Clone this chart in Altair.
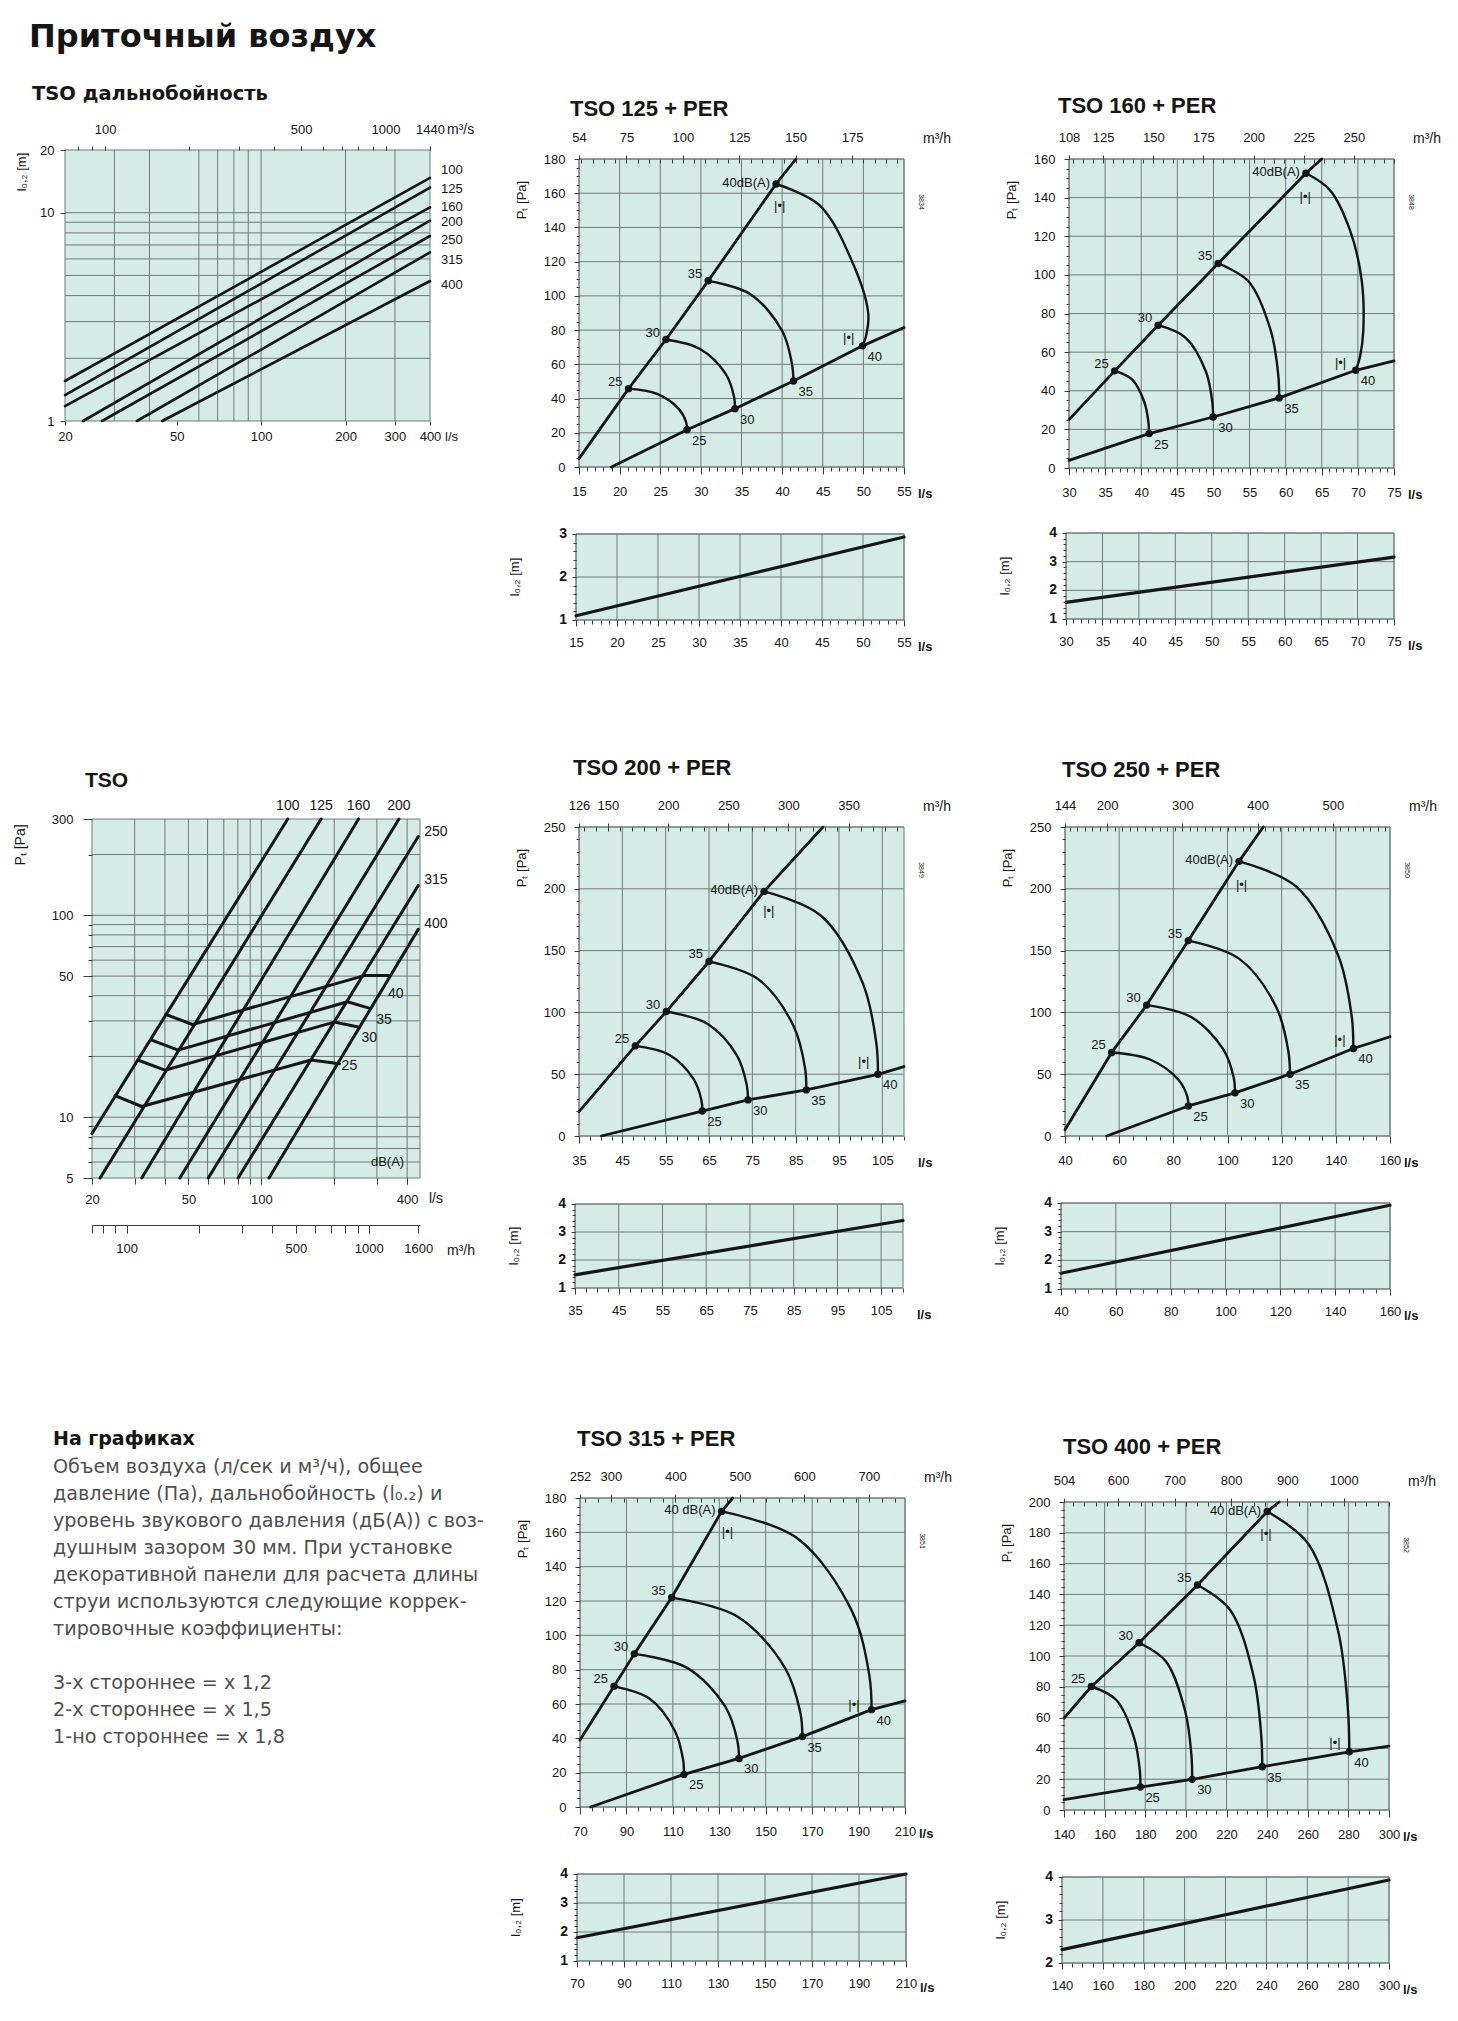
import altair as alt
import pandas as pd

# ---------------- values ----------------
# "TSO дальнобойность": throw l0.2 [m] vs airflow [l/s] (log-log)
THROW_SIZES = ["100", "125", "160", "200", "250", "315", "400"]
THROW_X0 = [20, 20, 20, 23.2, 27.1, 36.1, 44.4]
THROW_Y0 = [1.556, 1.33, 1.18, 1.0, 1.0, 1.0, 1.0]
THROW_X1 = [400, 400, 400, 400, 400, 400, 400]
THROW_Y1 = [14.7, 13.2, 10.6, 9.15, 7.73, 6.45, 4.70]
THROW_LABEL_Y = [16.0, 13.0, 10.6, 9.0, 7.4, 5.9, 4.5]
THROW_XGRID = [30, 40, 60, 70, 80, 90, 100, 200, 300]
THROW_YGRID = [2, 3, 4, 5, 6, 7, 8, 9, 10]
THROW_XLABELS = [20, 50, 100, 200, 300, 400]
THROW_YLABELS = [1, 10, 20]
THROW_TOP_LABELS = [100, 500, 1000, 1440]
THROW_TOP_TICKS = [80, 90, 100, 200, 300, 400, 500, 600, 700, 800, 900, 1000, 1440]

# "TSO": total pressure [Pa] vs airflow [l/s] (log-log)
PD_SIZES = ["100", "125", "160", "200", "250", "315", "400"]
PD_X0 = [20, 21.6, 32.1, 46.1, 60.4, 80.2, 107.6]
PD_Y0 = [8.3, 5, 5, 5, 5, 5, 5]
PD_X1 = [128.6, 176.5, 252, 370, 444.6, 444.6, 444.6]
PD_Y1 = [300, 300, 300, 300, 245.5, 140.6, 85.2]
PD_DB = ["25", "30", "35", "40"]
PD_DB_X = [[24.9, 32.1, 160.5, 210], [30.9, 40.0, 200, 254], [35.3, 45.4, 227, 283], [40.3, 52.0, 266, 337]]
PD_DB_Y = [[12.8, 11.3, 19.2, 18.4], [19.2, 17.1, 29.6, 27.9], [24.1, 21.5, 37.3, 34.5], [32.3, 28.8, 50.3, 50.3]]
PD_DB_LX = [231, 279, 321, 359]
PD_DB_LY = [17.9, 24.7, 30.4, 40.7]
PD_XGRID = [30, 40, 50, 60, 70, 80, 90, 100, 200, 300, 400]
PD_YGRID = [6, 7, 8, 9, 10, 20, 30, 40, 50, 60, 70, 80, 90, 100, 200]
PD_XLABELS = [20, 50, 100, 400]
PD_YLABELS = [5, 10, 50, 100, 300]
PD_M3H_LABELS = [100, 500, 1000, 1600]
PD_M3H_TICKS = [72, 80, 90, 100, 200, 300, 400, 500, 600, 700, 800, 900, 1000, 1600]

# TSO + PER panels: (l/s, Pa) points; upper line, lower line, dB arcs, |•| marks, throw line
P125_UPPER = [(15, 4.9), (21.1, 45.8), (25.7, 74.5), (30.9, 108.8), (39.25, 165.4), (41.7, 180)]
P125_LOWER = [(19.0, 0), (28.3, 21.8), (34.2, 34.1), (41.4, 50.3), (49.9, 70.8), (55, 81.5)]
P125_ARCS = [
    [(21.1, 45.8), (24.7, 42.6), (27.3, 33.8), (28.2, 26.0), (28.3, 21.8)],
    [(25.7, 74.5), (29.9, 69.0), (33.05, 54.4), (34.08, 41.1), (34.2, 34.1)],
    [(30.9, 108.8), (36.1, 101.0), (40.0, 79.6), (41.2, 60.5), (41.4, 50.3)],
    [(39.25, 165.4), (44.6, 153.0), (48.8, 118.0), (50.6, 89.7), (50.3, 76.0), (49.9, 70.8)],
]
P125_MARKS = [(39.7, 152.6), (48.2, 75.1)]
P125_THROW = [(15, 1.1), (55, 2.93)]

P160_UPPER = [(30, 25.05), (36.33, 50.3), (42.34, 73.95), (50.65, 105.9), (62.8, 152.6), (64.97, 160)]
P160_LOWER = [(30, 3.97), (41.09, 17.8), (49.96, 26.4), (59.1, 36.3), (69.7, 50.6), (75, 55.5)]
P160_ARCS = [
    [(36.33, 50.3), (38.69, 45.96), (40.44, 34.04), (41.0, 23.5), (41.09, 17.8)],
    [(42.34, 73.95), (46.12, 67.56), (48.94, 50.1), (49.82, 34.73), (49.96, 26.4)],
    [(50.65, 105.9), (54.86, 96.59), (57.95, 71.02), (58.97, 48.38), (59.1, 36.3)],
    [(62.8, 152.6), (66.13, 143.9), (68.9, 123.2), (70.52, 97.3), (70.75, 71.4), (70.29, 57.5), (69.7, 50.6)],
]
P160_MARKS = [(62.7, 140.5), (67.6, 54.4)]
P160_THROW = [(30, 1.58), (75, 3.16)]

P200_UPPER = [(35, 19.7), (48.0, 72.9), (55.15, 100.7), (65.0, 141.2), (77.7, 197.9), (91.3, 250)]
P200_LOWER = [(40.15, 0), (63.46, 20.2), (74.0, 29.2), (87.46, 37.3), (104.0, 49.9), (110, 56.2)]
P200_ARCS = [
    [(48.0, 72.9), (55.69, 65.9), (61.38, 46.4), (63.23, 29.4), (63.46, 20.2)],
    [(55.15, 100.7), (64.54, 91.0), (71.46, 65.1), (73.69, 41.6), (74.0, 29.2)],
    [(65.0, 141.2), (76.23, 127.2), (84.46, 89.4), (87.15, 55.3), (87.46, 37.3)],
    [(77.7, 197.9), (90.85, 178.2), (100.46, 123.9), (103.6, 75.6), (104.0, 49.9)],
]
P200_MARKS = [(78.8, 181.7), (100.7, 60.2)]
P200_THROW = [(35, 1.47), (110, 3.41)]

P250_UPPER = [(40, 5.1), (57.23, 67.6), (70.15, 105.9), (85.54, 158.1), (104.25, 222.2), (113.2, 250)]
P250_LOWER = [(55.4, 0), (85.54, 24.3), (102.77, 34.9), (123.08, 50.0), (146.46, 70.8), (160, 80.3)]
P250_ARCS = [
    [(57.23, 67.6), (71.38, 61.9), (81.72, 45.9), (85.17, 31.9), (85.54, 24.3)],
    [(70.15, 105.9), (86.4, 96.5), (98.34, 70.5), (102.28, 47.3), (102.77, 34.9)],
    [(85.54, 158.1), (104.25, 143.5), (118.03, 104.1), (122.46, 68.6), (123.08, 50.0)],
    [(104.25, 222.2), (125.29, 201.9), (140.8, 146.5), (145.85, 97.0), (146.46, 70.8)],
]
P250_MARKS = [(105.2, 203.2), (141.5, 77.6)]
P250_THROW = [(40, 1.55), (160, 3.92)]

P315_UPPER = [(70, 39.0), (84.65, 70.3), (93.4, 89.2), (109.5, 122.0), (131.0, 172.2), (135.8, 180)]
P315_LOWER = [(74.6, 0), (114.8, 19.0), (138.5, 28.3), (165.8, 41.0), (195.6, 56.7), (210, 61.8)]
P315_ARCS = [
    [(84.65, 70.3), (99.72, 63.3), (110.78, 44.6), (114.37, 27.9), (114.8, 19.0)],
    [(93.4, 89.2), (115.95, 81.2), (132.46, 58.7), (137.77, 38.8), (138.5, 28.3)],
    [(109.5, 122.0), (137.63, 111.1), (158.16, 81.4), (164.91, 55.1), (165.8, 41.0)],
    [(131.0, 172.2), (163.33, 156.8), (187.03, 114.4), (194.63, 76.7), (195.6, 56.7)],
]
P315_MARKS = [(133.5, 160.4), (188.0, 59.6)]
P315_THROW = [(70, 1.8), (210, 4.0)]

P400_UPPER = [(140, 59.6), (153.47, 80.2), (176.96, 108.6), (205.71, 146.1), (240.04, 193.8), (245.96, 200)]
P400_LOWER = [(140, 6.7), (177.6, 14.9), (203.08, 19.9), (237.6, 28.1), (280.45, 37.8), (300, 41.5)]
P400_ARCS = [
    [(153.47, 80.2), (165.63, 71.6), (174.33, 47.7), (177.29, 26.3), (177.6, 14.9)],
    [(176.96, 108.6), (190.1, 96.6), (199.63, 64.3), (202.75, 35.3), (203.08, 19.9)],
    [(205.71, 146.1), (221.64, 130.2), (233.31, 87.0), (237.09, 48.5), (237.6, 28.1)],
    [(240.04, 193.8), (260.25, 172.9), (275.03, 115.8), (279.8, 64.8), (280.45, 37.8)],
]
P400_MARKS = [(239.4, 179.4), (273.4, 43.5)]
P400_THROW = [(140, 2.31), (300, 3.93)]

BODY_LINES = [
    "Объем воздуха (л/сек и м³/ч), общее",
    "давление (Па), дальнобойность (l₀.₂) и",
    "уровень звукового давления (дБ(А)) с воз-",
    "душным зазором 30 мм.  При установке",
    "декоративной панели для расчета длины",
    "струи используются следующие коррек-",
    "тировочные коэффициенты:",
    "",
    "3-х стороннее = х 1,2",
    "2-х стороннее = х 1,5",
    "1-но стороннее = х 1,8",
]

# ---------------- layout & style ----------------
W, H = 1442, 1996
M = 8
FONT = "Liberation Sans"
CYR = "DejaVu Sans"
BG = "#d4ebe6"
GRID = "#6f7a78"
INK = "#151515"
TICK = "#3a3a3a"

BOX = {
    "throw": (65, 430, 150, 421),
    "pd": (92, 420, 819, 1178),
    "125": (579, 904, 159, 467), "125s": (576, 904, 534, 620),
    "160": (1069, 1394, 159, 468), "160s": (1066, 1394, 533, 619),
    "200": (579, 904, 827, 1136), "200s": (575, 903, 1204, 1288),
    "250": (1065, 1390, 827, 1136), "250s": (1061, 1390, 1203, 1289),
    "315": (580, 905, 1498, 1807), "315s": (577, 906, 1874, 1961),
    "400": (1064, 1389, 1502, 1810), "400s": (1062, 1389, 1877, 1963),
}

layers = []


def scale(lo_px, hi_px, dom, typ="linear"):
    return alt.Scale(type=typ, domain=list(dom), range=[lo_px - M, hi_px - M], nice=False, zero=False)


def axis(orient, pos, values, labels=True, tick=5, pad=4, domain=False, size=13, weight="normal"):
    p = pos - M
    if orient == "bottom":
        off = p - H
    else:
        off = -p
    kw = dict(orient=orient, offset=off, values=list(values), labels=labels, ticks=True,
              tickSize=tick, tickColor=TICK, tickWidth=1, domain=domain, grid=False,
              labelPadding=pad, labelFont=FONT, labelFontSize=size, labelColor=INK,
              labelFontWeight=weight, labelOverlap=False, labelFlush=False, title=None, zindex=3)
    if domain:
        kw["domainColor"] = TICK
        kw["domainWidth"] = 1
    if labels:
        kw["format"] = "d"
    return alt.Axis(**kw)


def carrier(xs, ys, xv, yv, xax=None, yax=None):
    d = pd.DataFrame({"x": [xv], "y": [yv]})
    return alt.Chart(d).mark_point(opacity=0, size=1).encode(
        x=alt.X("x:Q", scale=xs, axis=xax), y=alt.Y("y:Q", scale=ys, axis=yax))


def bg(xs, ys, xd, yd):
    d = pd.DataFrame({"x": [xd[0]], "x2": [xd[1]], "y": [yd[0]], "y2": [yd[1]]})
    return alt.Chart(d).mark_rect(fill=BG, stroke=GRID, strokeWidth=1).encode(
        x=alt.X("x:Q", scale=xs, axis=None), x2="x2:Q",
        y=alt.Y("y:Q", scale=ys, axis=None), y2="y2:Q")


def vgrid(xs, ys, vals, yd):
    vals = list(vals)
    d = pd.DataFrame({"x": vals, "y": [yd[0]] * len(vals), "y2": [yd[1]] * len(vals)})
    return alt.Chart(d).mark_rule(color=GRID, strokeWidth=1).encode(
        x=alt.X("x:Q", scale=xs, axis=None), y=alt.Y("y:Q", scale=ys, axis=None), y2="y2:Q")


def hgrid(xs, ys, vals, xd):
    vals = list(vals)
    d = pd.DataFrame({"gy": vals, "gx": [xd[0]] * len(vals), "gx2": [xd[1]] * len(vals)})
    return alt.Chart(d).mark_rule(color=GRID, strokeWidth=1).encode(
        y=alt.Y("gy:Q", scale=ys, axis=None), x=alt.X("gx:Q", scale=xs, axis=None), x2="gx2:Q")


def line_layer(xs, ys, groups, width=2.6, interp="linear"):
    rows = []
    for g, pts in enumerate(groups):
        for i, (x, y) in enumerate(pts):
            rows.append({"x": x, "y": y, "g": g, "i": i})
    d = pd.DataFrame(rows)
    return alt.Chart(d).mark_line(color=INK, strokeWidth=width, interpolate=interp, strokeCap="round",
                                  strokeJoin="round").encode(
        x=alt.X("x:Q", scale=xs, axis=None), y=alt.Y("y:Q", scale=ys, axis=None),
        detail="g:N", order="i:Q")


def dots(xs, ys, pts):
    d = pd.DataFrame({"x": [p[0] for p in pts], "y": [p[1] for p in pts]})
    return alt.Chart(d).mark_circle(size=55, color=INK, opacity=1).encode(
        x=alt.X("x:Q", scale=xs, axis=None), y=alt.Y("y:Q", scale=ys, axis=None))


def text_layer(xs, ys, pts, labels, align="center", dx=0, dy=0, size=13, weight="normal",
               baseline="middle", font=FONT):
    d = pd.DataFrame({"x": [p[0] for p in pts], "y": [p[1] for p in pts], "t": labels})
    return alt.Chart(d).mark_text(align=align, baseline=baseline, dx=dx, dy=dy, fontSize=size,
                                  fontWeight=weight, font=font, color=INK).encode(
        x=alt.X("x:Q", scale=xs, axis=None), y=alt.Y("y:Q", scale=ys, axis=None), text="t:N")


def ptext(s, x, y, size=13, weight="normal", font=FONT, align="left", baseline="alphabetic",
          angle=0, color=INK):
    d = pd.DataFrame({"t": [s]})
    kw = dict(align=align, baseline=baseline, fontSize=size, fontWeight=weight, font=font, color=color)
    if angle:
        kw["angle"] = angle
    return alt.Chart(d).mark_text(**kw).encode(x=alt.value(x - M), y=alt.value(y - M), text="t:N")


# ---------------- headings ----------------
layers.append(ptext("Приточный воздух", 29, 47, size=32, weight="bold", font=CYR))
layers.append(ptext("TSO дальнобойность", 32, 100, size=19.5, weight="bold", font=CYR))

# ---------------- panel: TSO дальнобойность ----------------
x0, x1, y0, y1 = BOX["throw"]
xd, yd = [20, 400], [1, 20]
xs = scale(x0, x1, xd, "log")
ys = scale(y1, y0, yd, "log")
xt = scale(x0, x1, [72, 1440], "log")
layers += [
    bg(xs, ys, xd, yd),
    vgrid(xs, ys, THROW_XGRID, yd),
    hgrid(xs, ys, THROW_YGRID, xd),
    carrier(xs, ys, 20, 1, axis("bottom", y1, THROW_XLABELS, tick=4, pad=5),
            axis("left", x0, THROW_YLABELS, tick=5, pad=6)),
    carrier(xt, ys, 72, 1, axis("top", y0, THROW_TOP_LABELS, tick=4, pad=10), None),
    carrier(xt, ys, 72, 1, axis("top", y0, THROW_TOP_TICKS, labels=False, tick=4), None),
    line_layer(xs, ys, [[(THROW_X0[i], THROW_Y0[i]), (THROW_X1[i], THROW_Y1[i])] for i in range(7)],
               width=2.6),
    text_layer(xs, ys, [(400, v) for v in THROW_LABEL_Y], THROW_SIZES, align="left", dx=11),
    ptext("m³/s", x1 + 17, y0 - 16, size=14),
    ptext("l/s", x1 + 15, y1 + 20, size=13),
    ptext("l₀,₂ [m]", 22, 172, size=13, align="center", baseline="middle", angle=270),
]

# ---------------- panel: TSO pressure ----------------
layers.append(ptext("TSO", 85, 787, size=21, weight="bold"))
x0, x1, y0, y1 = BOX["pd"]
xd, yd = [20, 452], [5, 300]
xs = scale(x0, x1, xd, "log")
ys = scale(y1, y0, yd, "log")
xm = scale(x0, x1, [72, 1627.2], "log")
layers += [
    bg(xs, ys, xd, yd),
    vgrid(xs, ys, PD_XGRID, yd),
    hgrid(xs, ys, PD_YGRID, xd),
    carrier(xs, ys, 20, 5, axis("bottom", y1, PD_XLABELS, tick=6, pad=9),
            axis("left", x0, PD_YLABELS, tick=9, pad=10)),
    carrier(xs, ys, 20, 5, axis("bottom", y1, PD_XGRID, labels=False, tick=6),
            axis("left", x0, PD_YGRID, labels=False, tick=4)),
    carrier(xm, ys, 72, 5, axis("bottom", 1225, PD_M3H_LABELS, tick=8, pad=9, domain=True), None),
    carrier(xm, ys, 72, 5, axis("bottom", 1225, PD_M3H_TICKS, labels=False, tick=8), None),
    line_layer(xs, ys, [[(PD_X0[i], PD_Y0[i]), (PD_X1[i], PD_Y1[i])] for i in range(7)], width=3),
    line_layer(xs, ys, [list(zip(PD_DB_X[i], PD_DB_Y[i])) for i in range(4)], width=3),
    text_layer(xs, ys, [(PD_X1[i], PD_Y1[i]) for i in range(4)], PD_SIZES[:4], dy=-13, size=14),
    text_layer(xs, ys, [(PD_X1[i], PD_Y1[i]) for i in range(4, 7)], PD_SIZES[4:], align="left",
               dx=6, dy=-5, size=14),
    text_layer(xs, ys, list(zip(PD_DB_LX, PD_DB_LY)), PD_DB, size=14),
    text_layer(xs, ys, [(332, 6.0)], ["dB(A)"], size=13),
    ptext("l/s", x1 + 9, y1 + 25, size=14),
    ptext("m³/h", 447, 1255, size=14),
    ptext("Pₜ [Pa]", 21, 845, size=14, align="center", baseline="middle", angle=270),
]

# ---------------- text block ----------------
layers.append(ptext("На графиках", 53, 1445, size=19, weight="bold", font=CYR))
for i, line in enumerate(BODY_LINES):
    if line:
        layers.append(ptext(line, 53, 1473 + 27 * i, size=19.2, font=CYR, color="#4f4f4f"))


# ---------------- TSO + PER panels ----------------
def per_panel(key, title, tpos, xd, yd, xgrid, ygrid, xminor, yminor, top_dom, top_labels, top_minor,
              upper, lower, arcs, marks, code, sdom, sgrid, sminor, throw, dba):
    x0, x1, y0, y1 = BOX[key]
    xs = scale(x0, x1, xd)
    ys = scale(y1, y0, yd)
    xt = scale(x0, x1, top_dom)
    L = [
        bg(xs, ys, xd, yd),
        vgrid(xs, ys, xgrid, yd),
        hgrid(xs, ys, ygrid, xd),
        carrier(xs, ys, xd[0], yd[0], axis("bottom", y1, xgrid, tick=7, pad=11),
                axis("left", x0, ygrid, tick=5, pad=9)),
        carrier(xs, ys, xd[0], yd[0], axis("bottom", y1, xminor, labels=False, tick=4),
                axis("left", x0, yminor, labels=False, tick=3)),
        carrier(xt, ys, top_dom[0], yd[0], axis("top", y0, top_labels, tick=4, pad=11), None),
        carrier(xt, ys, top_dom[0], yd[0], axis("bottom", y0, top_minor, labels=False, tick=4), None),
        line_layer(xs, ys, [upper, lower], width=2.8),
        line_layer(xs, ys, arcs, width=2.4, interp="catmull-rom"),
        dots(xs, ys, upper[1:5] + lower[1:5]),
        text_layer(xs, ys, upper[1:4], ["25", "30", "35"], align="right", dx=-6, dy=-7),
        text_layer(xs, ys, [upper[4]], [dba], align="right", dx=-6, dy=-1),
        text_layer(xs, ys, lower[1:5], ["25", "30", "35", "40"], align="left", dx=5, dy=11),
        text_layer(xs, ys, marks, ["|•|", "|•|"], size=13),
        ptext(title, tpos[0], tpos[1], size=22, weight="bold"),
        ptext("m³/h", x1 + 19, y0 - 16, size=14),
        ptext("l/s", x1 + 14, y1 + 31, size=13, weight="bold"),
        ptext("Pₜ [Pa]", x0 - 57, y0 + 41, size=13, align="center", baseline="middle", angle=270),
        ptext(code, x1 + 17, y0 + 43, size=7, align="center", baseline="middle", angle=90),
    ]
    sx0, sx1, sy0, sy1 = BOX[key + "s"]
    xs2 = scale(sx0, sx1, xd)
    ys2 = scale(sy1, sy0, sdom)
    L += [
        bg(xs2, ys2, xd, sdom),
        vgrid(xs2, ys2, xgrid, sdom),
        hgrid(xs2, ys2, sgrid, xd),
        carrier(xs2, ys2, xd[0], sdom[0], axis("bottom", sy1, xgrid, tick=6, pad=10),
                axis("left", sx0, sgrid, labels=False, tick=4)),
        carrier(xs2, ys2, xd[0], sdom[0], axis("bottom", sy1, xminor, labels=False, tick=4),
                axis("left", sx0, sminor, labels=False, tick=3)),
        text_layer(xs2, ys2, [(xd[0], v) for v in sgrid], [str(v) for v in sgrid], align="right",
                   dx=-9, size=14, weight="bold"),
        line_layer(xs2, ys2, [throw], width=3.2),
        ptext("l/s", sx1 + 14, sy1 + 31, size=13, weight="bold"),
        ptext("l₀,₂ [m]", sx0 - 61, (sy0 + sy1) / 2, size=13, align="center", baseline="middle",
              angle=270),
    ]
    return L


def rng(a, b, s):
    out, v = [], a
    while v <= b + 1e-9:
        out.append(round(v, 4))
        v += s
    return out


layers += per_panel("125", "TSO 125 + PER", (570, 116), [15, 55], [0, 180],
                    rng(15, 55, 5), rng(0, 180, 20), rng(15, 55, 1), rng(0, 180, 5),
                    [54, 198], [54, 75, 100, 125, 150, 175], rng(55, 195, 5),
                    P125_UPPER, P125_LOWER, P125_ARCS, P125_MARKS, "3834",
                    [1, 3], [1, 2, 3], rng(1, 3, 0.2), P125_THROW, "40dB(A)")
layers += per_panel("160", "TSO 160 + PER", (1058, 113), [30, 75], [0, 160],
                    rng(30, 75, 5), rng(0, 160, 20), rng(30, 75, 1), rng(0, 160, 5),
                    [108, 270], [108, 125, 150, 175, 200, 225, 250], rng(110, 270, 5),
                    P160_UPPER, P160_LOWER, P160_ARCS, P160_MARKS, "3848",
                    [1, 4], [1, 2, 3, 4], rng(1, 4, 0.2), P160_THROW, "40dB(A)")
layers += per_panel("200", "TSO 200 + PER", (573, 775), [35, 110], [0, 250],
                    rng(35, 105, 10), rng(0, 250, 50), rng(35, 110, 2.5), rng(0, 250, 10),
                    [126, 396], [126, 150, 200, 250, 300, 350], rng(130, 390, 10),
                    P200_UPPER, P200_LOWER, P200_ARCS, P200_MARKS, "3849",
                    [1, 4], [1, 2, 3, 4], rng(1, 4, 0.2), P200_THROW, "40dB(A)")
layers += per_panel("250", "TSO 250 + PER", (1062, 777), [40, 160], [0, 250],
                    rng(40, 160, 20), rng(0, 250, 50), rng(40, 160, 5), rng(0, 250, 10),
                    [144, 576], [144, 200, 300, 400, 500], rng(150, 570, 10),
                    P250_UPPER, P250_LOWER, P250_ARCS, P250_MARKS, "3850",
                    [1, 4], [1, 2, 3, 4], rng(1, 4, 0.2), P250_THROW, "40dB(A)")
layers += per_panel("315", "TSO 315 + PER", (577, 1446), [70, 210], [0, 180],
                    rng(70, 210, 20), rng(0, 180, 20), rng(70, 210, 5), rng(0, 180, 5),
                    [252, 756], [252, 300, 400, 500, 600, 700], rng(260, 740, 20),
                    P315_UPPER, P315_LOWER, P315_ARCS, P315_MARKS, "3851",
                    [1, 4], [1, 2, 3, 4], rng(1, 4, 0.2), P315_THROW, "40 dB(A)")
layers += per_panel("400", "TSO 400 + PER", (1063, 1454), [140, 300], [0, 200],
                    rng(140, 300, 20), rng(0, 200, 20), rng(140, 300, 5), rng(0, 200, 5),
                    [504, 1080], [504, 600, 700, 800, 900, 1000], rng(520, 1080, 20),
                    P400_UPPER, P400_LOWER, P400_ARCS, P400_MARKS, "3852",
                    [2, 4], [2, 3, 4], rng(2, 4, 0.2), P400_THROW, "40 dB(A)")

chart = alt.layer(*layers).resolve_scale(x="independent", y="independent").resolve_axis(
    x="independent", y="independent").properties(width=W, height=H, padding=0,
                                                 background="white").configure_view(stroke=None)

chart.save("out.html", embed_options={"renderer": "svg", "actions": False})
